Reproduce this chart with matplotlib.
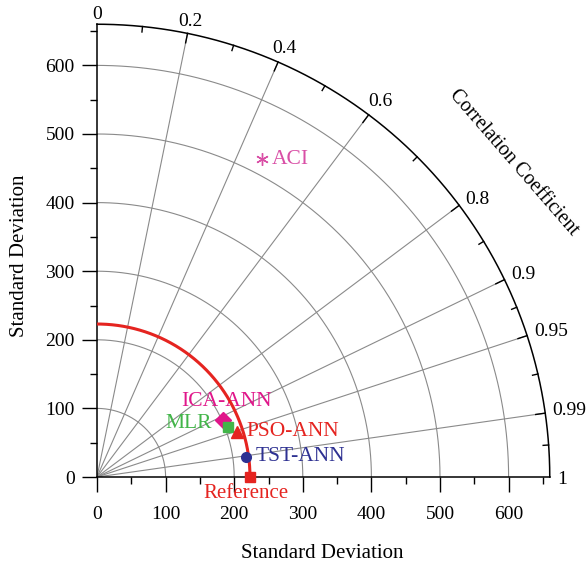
import numpy as np
import matplotlib.pyplot as plt

plt.rcParams['font.family'] = ['Liberation Serif', 'DejaVu Serif']

# model statistics (std dev, correlation with observed)
models = ['ACI', 'ICA-ANN', 'MLR', 'PSO-ANN', 'TST-ANN']
std_devs = [522, 202, 205, 215, 219]
corrs = [0.46, 0.91, 0.934, 0.952, 0.991]
ref_std = 223

std_ticks = [0, 100, 200, 300, 400, 500, 600]
corr_labels = [0, 0.2, 0.4, 0.6, 0.8, 0.9, 0.95, 0.99, 1]

colors = ['#d94fa6', '#e0168a', '#42b549', '#e52420', '#2e3192']
markers = [(6, 2, 0), 'D', 's', '^', 'o']
sizes = [9, 8, 7, 9, 7]
# label offsets in points, alignment
lab_off = [(7, 0, 'left'), (2.5, 13, 'center'), (-12, 2.5, 'right'),
           (6.5, 0, 'left'), (7, 0, 'left')]

rmax = 660
px = 0.686  # pixels per std-dev unit

fig = plt.figure(figsize=(5.87, 5.69), dpi=100)
W, H = 587, 569
ox, oy = 97, 477
lim = 680
ax = fig.add_axes([ox / W, (H - oy) / H, lim * px / W, lim * px / H])
ax.set_xlim(0, lim)
ax.set_ylim(0, lim)
ax.set_aspect('equal')
ax.patch.set_visible(False)

for s in ['top', 'right']:
    ax.spines[s].set_visible(False)
ax.spines['left'].set_bounds(0, rmax)
ax.spines['bottom'].set_bounds(0, rmax)
ax.spines['left'].set_linewidth(1.1)
ax.spines['bottom'].set_linewidth(1.1)

ax.set_xticks(std_ticks)
ax.set_yticks(std_ticks)
ax.set_xticks(np.arange(50, rmax, 100), minor=True)
ax.set_yticks(np.arange(50, rmax, 100), minor=True)
ax.tick_params(which='major', direction='out', length=11, width=1.0,
               labelsize=14)
ax.tick_params(axis='x', which='major', pad=10)
ax.tick_params(axis='y', which='major', pad=5)
ax.tick_params(which='minor', direction='out', length=5, width=1.0)

theta = np.linspace(0, np.pi / 2, 300)

# std dev grid arcs
for s in std_ticks[1:]:
    ax.plot(s * np.cos(theta), s * np.sin(theta), color='#8a8a8a', lw=0.8, zorder=1)

# correlation rays
for c in corr_labels[1:-1]:
    a = np.arccos(c)
    ax.plot([0, rmax * np.cos(a)], [0, rmax * np.sin(a)], color='#8a8a8a', lw=0.8, zorder=1)

# outer arc
ax.plot(rmax * np.cos(theta), rmax * np.sin(theta), color='black', lw=1.1,
        clip_on=False, zorder=3)

# ticks on outer arc: majors at labels, minors halfway (in angle)
angs = np.arccos(corr_labels)
tick_major = 14
tick_minor = 8
for a in angs[1:-1]:
    ax.plot([rmax * np.cos(a), (rmax - tick_major) * np.cos(a)],
            [rmax * np.sin(a), (rmax - tick_major) * np.sin(a)],
            color='black', lw=1.0, clip_on=False, zorder=3)
for a0, a1 in zip(angs[:-1], angs[1:]):
    a = 0.5 * (a0 + a1)
    ax.plot([rmax * np.cos(a), (rmax - tick_minor) * np.cos(a)],
            [rmax * np.sin(a), (rmax - tick_minor) * np.sin(a)],
            color='black', lw=1.0, clip_on=False, zorder=3)

# correlation labels just outside the arc
for c, a in zip(corr_labels, angs):
    txt = '{:g}'.format(c)
    if a >= np.pi / 4:
        half_w = 3.9 * len(txt) / px
        r = rmax + 12 / px + half_w * np.cos(a)
        ax.text(r * np.cos(a), r * np.sin(a), txt, ha='center',
                va='center_baseline', fontsize=14, clip_on=False)
    else:
        r = rmax + 7 / px
        lift = 4 / px if c < 1 else 0
        ax.text(r * np.cos(a), r * np.sin(a) + lift, txt, ha='left',
                va='center_baseline', fontsize=14, clip_on=False)

# reference arc and point
ax.plot(ref_std * np.cos(theta), ref_std * np.sin(theta), color='#e52420', lw=2.2, zorder=4)
ax.plot([ref_std], [0], marker='s', ms=7, color='#e52420', clip_on=False, zorder=6)
ax.annotate('Reference', (ref_std, 0), xytext=(-3, -12), textcoords='offset points',
            ha='center', va='center', color='#e52420', fontsize=15,
            annotation_clip=False)

# model points
for m, s, c, col, mk, ms, (dx, dy, ha) in zip(models, std_devs, corrs, colors,
                                              markers, sizes, lab_off):
    a = np.arccos(c)
    x, y = s * np.cos(a), s * np.sin(a)
    if m == 'ACI':
        ax.plot(x, y, marker=mk, ms=ms, color=col, mew=1.0, ls='none', zorder=5)
    else:
        ax.plot(x, y, marker=mk, ms=ms, color=col, mec=col, ls='none', zorder=5)
    ax.annotate(m, (x, y), xytext=(dx, dy), textcoords='offset points',
                ha=ha, va='center', color=col, fontsize=15.5)

ax.set_xlabel('Standard Deviation', fontsize=15)
ax.set_ylabel('Standard Deviation', fontsize=15)
ax.xaxis.set_label_coords(0.482, -0.143)
ax.yaxis.set_label_coords(-0.146, 0.474)
fig.text(514 / W, 1 - 163 / H, 'Correlation Coefficient', rotation=-49,
         ha='center', va='center', fontsize=14.5)

fig.savefig('out.png', dpi=100)
